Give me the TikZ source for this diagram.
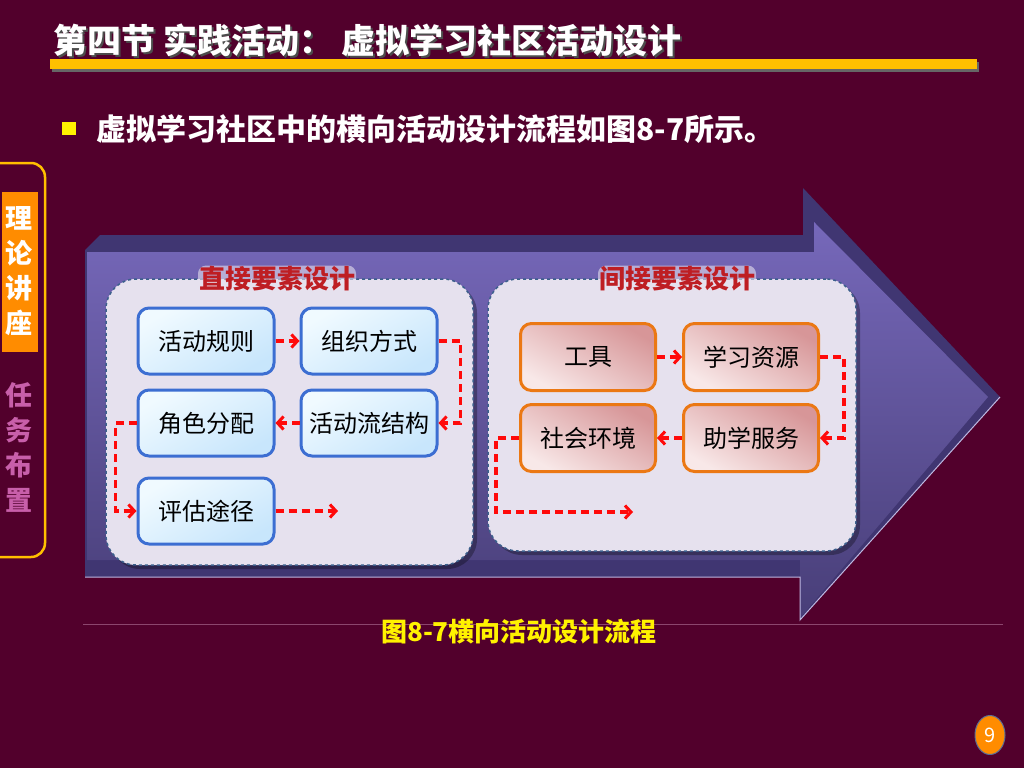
\documentclass[tikz,border=0pt]{standalone}
\usepackage{fontspec}
\setmainfont{Noto Sans CJK SC}
\usetikzlibrary{arrows.meta,shapes.geometric}
\definecolor{slidebg}{RGB}{82,0,44}
\definecolor{bargold}{RGB}{255,192,0}
\definecolor{taborange}{RGB}{255,140,0}
\definecolor{tabpink}{RGB}{200,95,170}
\definecolor{rulemauve}{RGB}{140,70,110}
\definecolor{arrowdark}{RGB}{64,54,114}
\definecolor{arrowtop}{RGB}{118,104,186}
\definecolor{arrowbottom}{RGB}{72,62,120}
\definecolor{arrowedge}{RGB}{190,184,225}
\definecolor{flowred}{RGB}{255,10,10}
\definecolor{panelfill}{RGB}{230,225,238}
\definecolor{paneledge}{RGB}{60,95,140}
\definecolor{titlered}{RGB}{190,30,35}
\definecolor{blueedge}{RGB}{60,110,210}
\definecolor{bluelight}{RGB}{240,250,255}
\definecolor{bluedeep}{RGB}{200,230,252}
\definecolor{orangeedge}{RGB}{235,120,20}
\definecolor{pinkdeep}{RGB}{215,150,152}
\definecolor{pinklight}{RGB}{248,232,232}
\definecolor{pageedge}{RGB}{90,110,150}
\tikzset{
  bluebox/.style={rectangle, rounded corners=11pt, line width=3pt, draw=blueedge,
    top color=bluelight, bottom color=bluedeep, shading angle=30,
    minimum width=136pt, minimum height=66pt, inner sep=0pt, font=\fontsize{24}{26}\selectfont},
  orangebox/.style={bluebox, draw=orangeedge,
    top color=pinkdeep, bottom color=pinklight, shading angle=-30,
    minimum width=135pt, minimum height=67pt},
  flowline/.style={flowred, line width=3.2pt, dash pattern=on 8pt off 5pt, -{Straight Barb[length=6pt,width=13pt,line width=3pt]}},
  panel/.style={rectangle, rounded corners=30pt, fill=panelfill, draw=paneledge, line width=1.5pt, dashed},
  paneltitle/.style={font=\fontsize{26}{28}\selectfont\bfseries, text=titlered, fill=panelfill, fill opacity=.6, text opacity=1,
    rounded corners=8pt, inner sep=1pt},
}
\begin{document}
\begin{tikzpicture}[x=1pt,y=-1pt]
\useasboundingbox (0,0) rectangle (1024,768);
\fill[slidebg] (0,0) rectangle (1024,768);
% header:
\node[anchor=west, text=black!70, font=\fontsize{34}{36}\selectfont\bfseries] (titleshade) at (52,42) {第四节 实践活动： 虚拟学习社区活动设计};
\node[anchor=west, text=white, font=\fontsize{34}{36}\selectfont\bfseries] (title) at (50,40) {第四节 实践活动： 虚拟学习社区活动设计};
\fill[black!60] (52,62) rectangle (979,72);
\fill[bargold] (50,59) rectangle (977,69);
\node[rectangle, fill=yellow, minimum width=14pt, minimum height=13pt, inner sep=0pt] (bullet) at (69,128) {};
\node[anchor=west, text=white, font=\fontsize{30}{32}\selectfont\bfseries] (intro) at (93,129) {虚拟学习社区中的横向活动设计流程如图8-7所示。};
% side tabs:
\draw[bargold, line width=2.5pt, rounded corners=14pt] (-20,163) rectangle (45,557);
\node[rectangle, fill=taborange, minimum width=36pt, minimum height=160pt, inner sep=0pt] (tabon) at (20,272) {};
\node[align=center, text=white, font=\fontsize{27}{35}\selectfont\bfseries] (tabtext) at (19,271) {理\\论\\讲\\座};
\node[align=center, text=tabpink, font=\fontsize{27}{35}\selectfont\bfseries] (taboff) at (19,447) {任\\务\\布\\置};
% big arrow:
\draw[rulemauve, line width=1pt] (83,624) -- (1003,624);
\fill[arrowdark] (100,235) -- (803,235) -- (803,188) -- (1000,397) -- (800,620) -- (800,577) -- (85,577) -- (85,250) -- cycle;
\shade[top color=arrowtop, bottom color=arrowbottom]
  (87,252) -- (814,252) -- (814,222) -- (988,397) -- (800,618) -- (800,560) -- (87,560) -- cycle;
\draw[arrowedge, line width=1pt] (85,577) -- (800,577) -- (800,620) -- (1000,397);
% direct elements:
\fill[black, opacity=.3, rounded corners=30pt] (110,283) rectangle (477,569);
\node[panel, minimum width=367pt, minimum height=286pt] (directpanel) at (289.5,422) {};
\node[paneltitle] (directtitle) at (277,279) {直接要素设计};
\node[bluebox] (rules) at (206,341) {活动规则};
\node[bluebox] (org) at (369,341) {组织方式};
\node[bluebox] (flow) at (369,423) {活动流结构};
\node[bluebox] (roles) at (206,423) {角色分配};
\node[bluebox] (assess) at (206,511) {评估途径};
\coordinate (assessend) at (338,511);
\draw[flowline] (rules) -- (org);
\draw[flowline] (org.east) -- ++(22,0) |- (flow.east);
\draw[flowline] (flow) -- (roles);
\draw[flowline] (roles.west) -- ++(-21,0) |- (assess.west);
\draw[flowline] (assess) -- (assessend);
% indirect elements:
\fill[black, opacity=.3, rounded corners=30pt] (492,283) rectangle (860,555);
\node[panel, minimum width=368pt, minimum height=272pt] (indirectpanel) at (672,415) {};
\node[paneltitle] (indirecttitle) at (677,279) {间接要素设计};
\node[orangebox] (tools) at (588,357) {工具};
\node[orangebox] (res) at (751,357) {学习资源};
\node[orangebox] (serv) at (751,438) {助学服务};
\node[orangebox] (env) at (588,438) {社会环境};
\coordinate (envend) at (633,512);
\draw[flowline] (tools) -- (res);
\draw[flowline] (res.east) -- ++(24,0) |- (serv.east);
\draw[flowline] (serv) -- (env);
\draw[flowline] (env.west) -- ++(-23,0) |- (envend);
% caption and page:
\node[text=yellow, font=\fontsize{26}{28}\selectfont\bfseries] (caption) at (519,632) {图8-7横向活动设计流程};
\node[ellipse, fill=taborange, draw=pageedge, line width=1pt,
  minimum width=30pt, minimum height=39pt, inner sep=0pt, text=white, font=\fontsize{20}{22}\selectfont] (pageno) at (990,735) {9};
\end{tikzpicture}
\end{document}
